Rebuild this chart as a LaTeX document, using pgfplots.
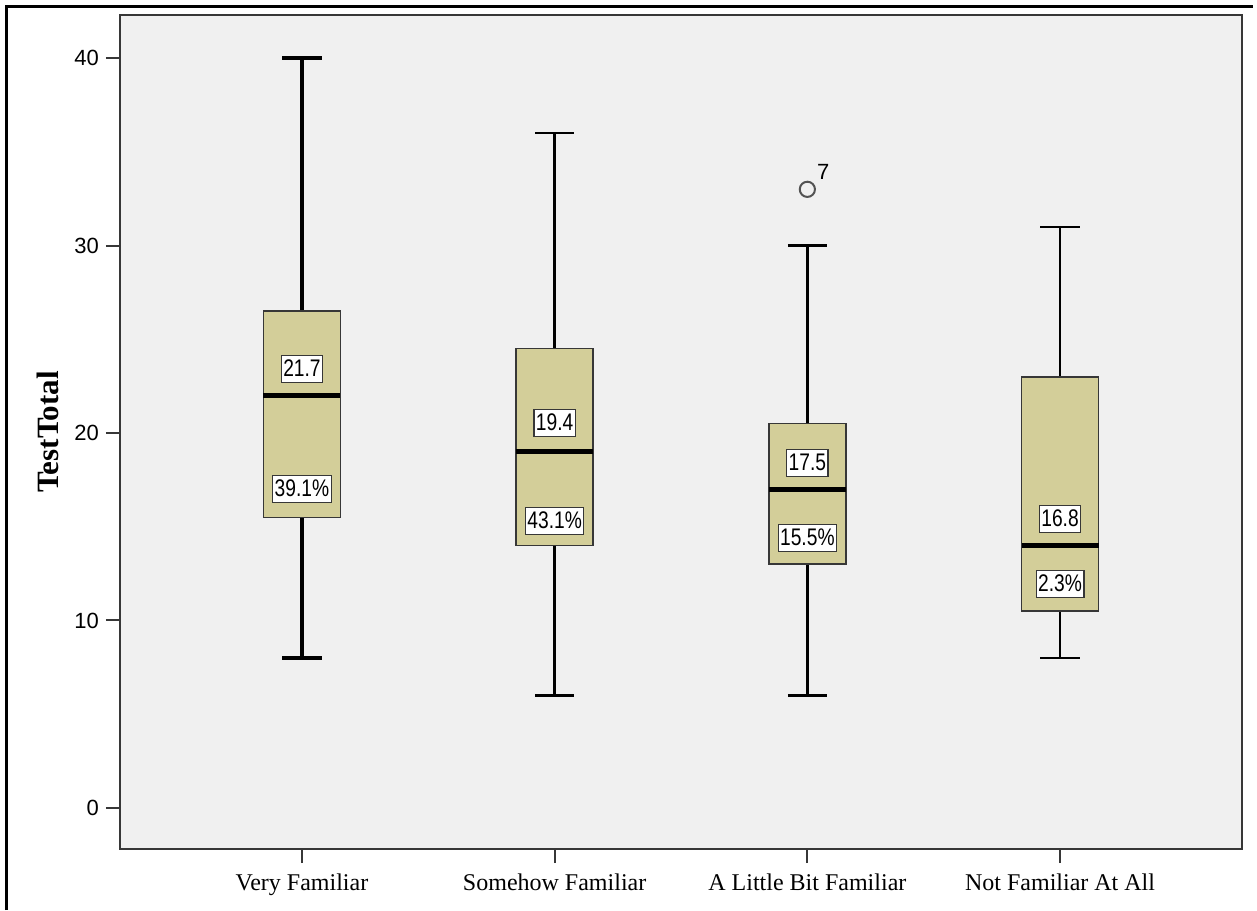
\documentclass[border=0pt]{standalone}
\usepackage{pgfplots}
\pgfplotsset{compat=1.18}
\usepackage{fontspec}
\setmainfont{Liberation Serif}
\newfontfamily\arial{Liberation Sans}
\newfontfamily\narrow[FakeStretch=0.8]{Liberation Sans}
\definecolor{boxfill}{RGB}{211,206,153}
\definecolor{panel}{RGB}{240,240,240}
\definecolor{frame}{RGB}{55,55,55}
\tikzset{vallabel/.style={draw=frame, fill=white, line width=0.6pt, inner xsep=1pt, inner ysep=1.5pt,
    text height=9pt, text depth=1.5pt, font=\narrow\fontsize{12}{12}\selectfont}}
\pgfplotsset{
  whisk/.style={black, line width=#1, no markers},
  qbox/.style={fill=boxfill, draw=frame, line width=0.8pt, no markers},
  med/.style={black, line width=2.5pt, no markers},
}

\begin{document}
\begin{tikzpicture}
\useasboundingbox (-60pt,-30.5pt) rectangle (568.5pt,424.5pt);
\draw[line width=1.5pt] (-56.5pt,-30.5pt) -- (-56.5pt,421pt) -- (566.5pt,421pt);
\begin{axis}[
  at={(0,0)}, anchor=south west,
  scale only axis, width=561pt, height=417pt,
  xmin=-0.72, xmax=3.72, ymin=-2.19, ymax=42.3,
  axis background/.style={fill=panel},
  axis line style={frame, line width=1.2pt},
  xtick={0,1,2,3},
  xticklabels={Very Familiar, Somehow Familiar, A Little Bit Familiar, Not Familiar At All},
  ytick={0,10,20,30,40},
  tick align=outside, xtick pos=bottom, ytick pos=left,
  major tick length=7pt,
  tick style={frame, line width=1pt},
  /pgf/number format/assume math mode=true,
  xticklabel style={font=\fontsize{12}{14}\selectfont, yshift=-2pt},
  yticklabel style={font=\arial\fontsize{11}{13}\selectfont},
  ylabel={TestTotal},
  every axis y label/.style={at={([xshift=-36pt]axis description cs:0,0.5)}, rotate=90, anchor=center,
    font=\bfseries\fontsize{15.5}{17}\selectfont},
  clip=false,
]
% Very Familiar: whiskers 8-40, box 15.5-26.5, median 22
\addplot[whisk=1.7pt] coordinates {(0,8) (0,40)};
\addplot[whisk=1.7pt] coordinates {(-0.0775,40) (0.0775,40)};
\addplot[whisk=1.7pt] coordinates {(-0.0775,8) (0.0775,8)};
\addplot[qbox] coordinates {(-0.1525,15.5) (0.1525,15.5) (0.1525,26.5) (-0.1525,26.5)} -- cycle;
\addplot[med] coordinates {(-0.1525,22) (0.1525,22)};

% Somehow Familiar: whiskers 6-36, box 14-24.5, median 19
\addplot[whisk=1.3pt] coordinates {(1,6) (1,36)};
\addplot[whisk=1.3pt] coordinates {(0.9225,36) (1.0775,36)};
\addplot[whisk=1.3pt] coordinates {(0.9225,6) (1.0775,6)};
\addplot[qbox] coordinates {(0.8475,14) (1.1525,14) (1.1525,24.5) (0.8475,24.5)} -- cycle;
\addplot[med] coordinates {(0.8475,19) (1.1525,19)};

% A Little Bit Familiar: whiskers 6-30, box 13-20.5, median 17, outlier 33 (case 7)
\addplot[whisk=1.6pt] coordinates {(2,6) (2,30)};
\addplot[whisk=1.6pt] coordinates {(1.9225,30) (2.0775,30)};
\addplot[whisk=1.6pt] coordinates {(1.9225,6) (2.0775,6)};
\addplot[qbox] coordinates {(1.8475,13) (2.1525,13) (2.1525,20.5) (1.8475,20.5)} -- cycle;
\addplot[med] coordinates {(1.8475,17) (2.1525,17)};
\addplot[only marks, mark=o, mark size=3.8pt, mark options={draw=gray!65!black, line width=1pt}]
  coordinates {(2,33)};

% Not Familiar At All: whiskers 8-31, box 10.5-23, median 14
\addplot[whisk=1.3pt] coordinates {(3,8) (3,31)};
\addplot[whisk=1.3pt] coordinates {(2.9225,31) (3.0775,31)};
\addplot[whisk=1.3pt] coordinates {(2.9225,8) (3.0775,8)};
\addplot[qbox] coordinates {(2.8475,10.5) (3.1525,10.5) (3.1525,23) (2.8475,23)} -- cycle;
\addplot[med] coordinates {(2.8475,14) (3.1525,14)};

\node[vallabel] at (axis cs:0,23.41) {21.7};
\node[vallabel] at (axis cs:0,17.01) {39.1\%};
\node[vallabel] at (axis cs:1,20.53) {19.4};
\node[vallabel] at (axis cs:1,15.30) {43.1\%};
\node[vallabel] at (axis cs:2,18.40) {17.5};
\node[vallabel] at (axis cs:2,14.40) {15.5\%};
\node[vallabel] at (axis cs:3,15.43) {16.8};
\node[vallabel] at (axis cs:3,11.95) {2.3\%};
\node[font=\arial\fontsize{11}{13}\selectfont, xshift=8pt, yshift=8.5pt] at (axis cs:2,33) {7};
\end{axis}
\end{tikzpicture}
\end{document}
